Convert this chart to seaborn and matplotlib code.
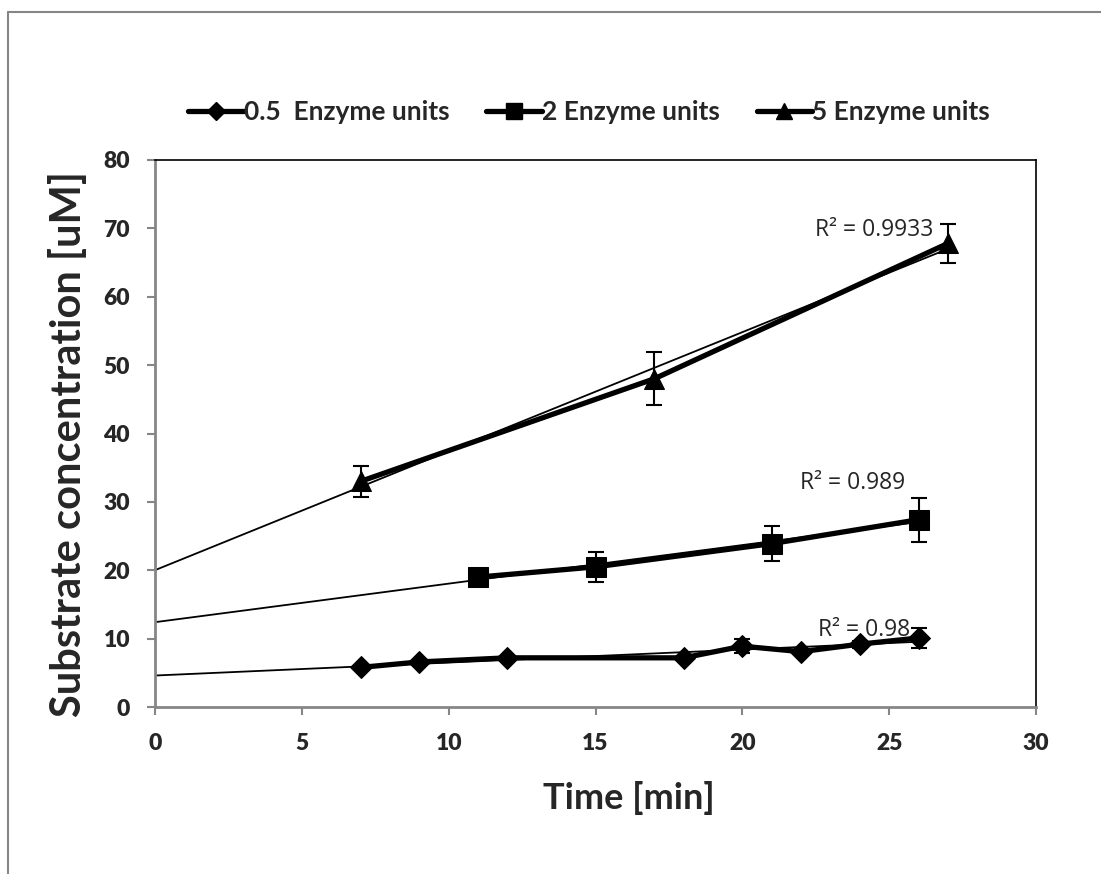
import numpy as np
import pandas as pd
import matplotlib
matplotlib.use('Agg')
import matplotlib.pyplot as plt
from matplotlib.lines import Line2D
import seaborn as sns

# data
t_05 = [7, 9, 12, 18, 20, 22, 24, 26]
c_05 = [5.8, 6.6, 7.2, 7.2, 8.9, 8.1, 9.2, 10.1]
e_05 = [0, 0, 0, 0, 1.0, 0, 0.5, 1.4]

t_2 = [11, 15, 21, 26]
c_2 = [19.0, 20.5, 23.9, 27.4]
e_2 = [0, 2.2, 2.6, 3.2]

t_5 = [7, 17, 27]
c_5 = [33.0, 48.0, 67.8]
e_5 = [2.3, 3.9, 2.8]

labels = ['0.5  Enzyme units', '2 Enzyme units', '5 Enzyme units']
markers = ['D', 's', '^']
marker_sizes = [11, 14, 14]
r2_text = ['R\u00b2 = 0.98', 'R\u00b2 = 0.989', 'R\u00b2 = 0.9933']
r2_pos = [(25.7, 11.2), (25.55, 32.8), (26.5, 69.7)]
x_ticks = list(range(0, 31, 5))
y_ticks = list(range(0, 81, 10))

series = [(t_05, c_05, e_05), (t_2, c_2, e_2), (t_5, c_5, e_5)]

sns.set_style('white')
plt.rcParams['font.family'] = ['Lato', 'DejaVu Sans']
plt.rcParams['font.weight'] = 'bold'

fig = plt.figure(figsize=(11.01, 8.74), dpi=100)
ax = fig.add_axes([0.1408, 0.191, 0.8002, 0.626])

handles = []
for (t, c, e), lab, m, ms, txt, pos in zip(series, labels, markers, marker_sizes, r2_text, r2_pos):
    df = pd.DataFrame({'time': t, 'conc': c})
    # linear trendline, forecast back to 0
    slope, icpt = np.polyfit(t, c, 1)
    tr = pd.DataFrame({'time': [0, max(t)]})
    tr['conc'] = icpt + slope * tr['time']
    sns.lineplot(data=tr, x='time', y='conc', ax=ax, color='black', lw=1.3, zorder=2)
    sns.lineplot(data=df, x='time', y='conc', ax=ax, color='black', lw=3.8,
                 marker=m, markersize=ms, markeredgecolor='black', zorder=3)
    ax.errorbar(t, c, yerr=e, fmt='none', ecolor='black', elinewidth=1.5,
                capsize=6, capthick=1.5, zorder=4)
    ax.text(pos[0], pos[1], txt, ha='right', va='center', fontsize=16.5,
            fontweight='normal', family=['Open Sans', 'DejaVu Sans'])
    handles.append(Line2D([], [], color='black', lw=3.8, marker=m, markersize=ms * 0.8))

ax.set_xlim(0, 30)
ax.set_ylim(0, 80)
ax.set_xticks(x_ticks, labels=[str(v) for v in x_ticks], fontsize=16.5, fontweight='heavy')
ax.set_yticks(y_ticks, labels=[str(v) for v in y_ticks], fontsize=16.5, fontweight='heavy')
ax.tick_params(axis='both', direction='out', length=6, width=1.5, color='#868686',
               left=True, bottom=True)
ax.tick_params(axis='x', pad=13)
ax.tick_params(axis='y', pad=12)

for s in ['left', 'bottom']:
    ax.spines[s].set_color('#868686')
    ax.spines[s].set_linewidth(2)
for s in ['top', 'right']:
    ax.spines[s].set_color('black')
    ax.spines[s].set_linewidth(1.2)

ax.set_xlabel('Time [min]', fontsize=26, fontweight='bold')
ax.set_ylabel('Substrate concentration [uM]', fontsize=30, fontweight='bold')
ax.xaxis.set_label_coords(0.538, -0.135)
ax.yaxis.set_label_coords(-0.076, 0.48)

fig.legend(handles, labels, loc='center', bbox_to_anchor=(0.535, 0.872), ncol=3,
           frameon=False, prop={'weight': 'bold', 'size': 19}, handlelength=2.1,
           handletextpad=0.0, columnspacing=1.4)

# outer chart-area border (top and left visible)
fig.add_artist(Line2D([8 / 1101, 1.0], [1 - 12 / 874] * 2, color='#868686', lw=1.5))
fig.add_artist(Line2D([8 / 1101] * 2, [0.0, 1 - 12 / 874], color='#868686', lw=1.5))

fig.savefig('out.png', dpi=100)
